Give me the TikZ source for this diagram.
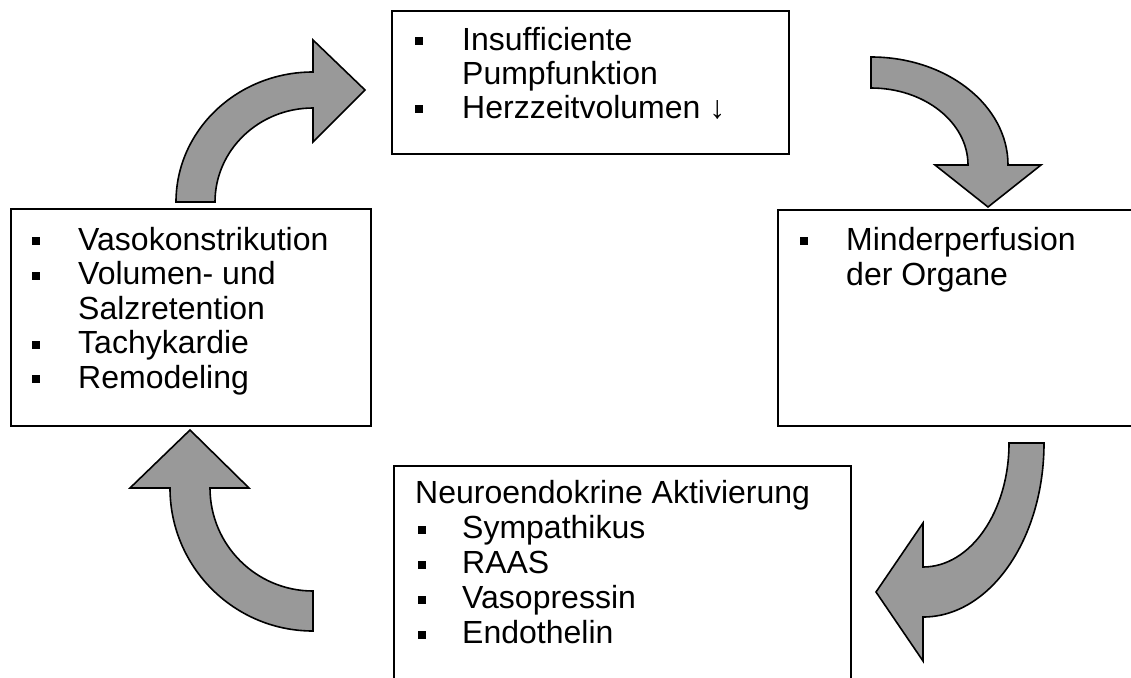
\documentclass[tikz,border=0pt]{standalone}
\usepackage{fontspec}
\setmainfont{Liberation Sans}
\definecolor{arrowgray}{RGB}{153,153,153}
\tikzset{
  box/.style={draw=black, line width=1.8pt, anchor=north west, inner sep=0pt},
  txt/.style={anchor=base west, inner sep=0pt, font=\fontsize{32}{34}\selectfont},
  bul/.style={fill=black, minimum size=8pt, inner sep=0pt},
  bigarrow/.style={fill=arrowgray, draw=black, line width=1.6pt, line join=miter}
}
\begin{document}
\begin{tikzpicture}[x=1pt,y=-1pt]
\useasboundingbox (0,0) rectangle (1131,677);
% boxes
\node[box, minimum width=397pt, minimum height=143pt] (top) at (391,10) {};
\node[box, minimum width=360pt, minimum height=217pt] (left) at (10,208) {};
\node[box, minimum width=400pt, minimum height=216pt] (right) at (777,209) {};
\node[box, minimum width=457pt, minimum height=240pt] (bottom) at (393,465) {};
% top box text
\node[bul] (tb1) at (418.5,41) {};
\node[txt] (tt1) at (462,50) {Insufficiente};
\node[txt] (tt2) at (462,84) {Pumpfunktion};
\node[bul] (tb2) at (418.5,109) {};
\node[txt] (tt3) at (462,118) {Herzzeitvolumen ↓};
% right box text
\node[bul] (rb1) at (804,241) {};
\node[txt] (rt1) at (846,250) {Minderperfusion};
\node[txt] (rt2) at (846,285) {der Organe};
% bottom box text
\node[txt] (bt0) at (415,503) {Neuroendokrine Aktivierung};
\node[bul] (bb1) at (421.5,530) {};
\node[txt] (bt1) at (462,538) {Sympathikus};
\node[bul] (bb2) at (421.5,565) {};
\node[txt] (bt2) at (462,573) {RAAS};
\node[bul] (bb3) at (421.5,600) {};
\node[txt] (bt3) at (462,608) {Vasopressin};
\node[bul] (bb4) at (421.5,635) {};
\node[txt] (bt4) at (462,643) {Endothelin};
% left box text
\node[bul] (lb1) at (36,241) {};
\node[txt] (lt1) at (78,250) {Vasokonstrikution};
\node[bul] (lb2) at (36,275.5) {};
\node[txt] (lt2) at (78,284.5) {Volumen- und};
\node[txt] (lt3) at (78,319) {Salzretention};
\node[bul] (lb3) at (36,344.5) {};
\node[txt] (lt4) at (78,353.5) {Tachykardie};
\node[bul] (lb4) at (36,379) {};
\node[txt] (lt5) at (78,388) {Remodeling};
% curved arrows
% left -> top
\draw[bigarrow] (176,202) arc[start angle=180,end angle=270,x radius=137,y radius=130]
  -- (313,40) -- (365,90) -- (313,142) -- (313,108)
  arc[start angle=270,end angle=180,x radius=98,y radius=94] -- cycle;
% top -> right
\draw[bigarrow] (871,57) arc[start angle=270,end angle=360,x radius=137,y radius=108]
  -- (1041,165) -- (988,207) -- (935,165) -- (968,165)
  arc[start angle=0,end angle=-90,x radius=97,y radius=77] -- cycle;
% right -> bottom
\draw[bigarrow] (1044,443) -- (1009,443)
  arc[start angle=0,end angle=90,x radius=86,y radius=124]
  -- (923,523) -- (876,592) -- (923,661) -- (923,617)
  arc[start angle=90,end angle=0,x radius=121,y radius=174] -- cycle;
% bottom -> left
\draw[bigarrow] (313,631) -- (313,591)
  arc[start angle=90,end angle=180,x radius=103,y radius=103]
  -- (249,488) -- (190,430) -- (130,488) -- (170,488)
  arc[start angle=180,end angle=90,x radius=143,y radius=143] -- cycle;
\end{tikzpicture}
\end{document}
